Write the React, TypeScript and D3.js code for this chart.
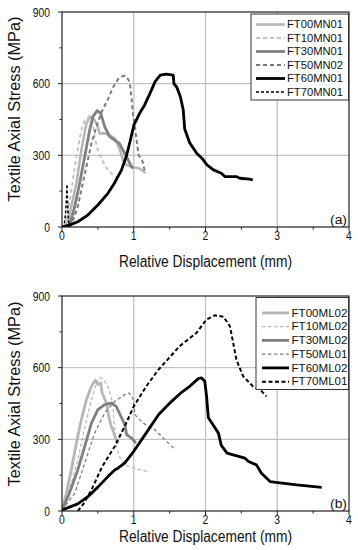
import React from "react";
import * as d3 from "d3";

// ---------- data ----------
const xTicks = [0, 1, 2, 3, 4];
const yTicks = [0, 300, 600, 900];
const xMinorTicks = [0.5, 1.5, 2.5, 3.5];
const yMinorTicks = [150, 450, 750];

const namesA = ["FT00MN01", "FT10MN01", "FT30MN01", "FT50MN02", "FT60MN01", "FT70MN01"];
const namesB = ["FT00ML02", "FT10ML02", "FT30ML02", "FT50ML01", "FT60ML02", "FT70ML01"];

const ft00mn01: [number, number][] = [[0.05,0],[0.09,30],[0.13,85],[0.2,183],[0.27,322],[0.34,434],[0.39,462],[0.455,448],[0.5,420],[0.525,392],[0.595,392],[0.66,385],[0.734,371],[0.8,329],[0.85,280],[0.9,259],[0.97,252],[1.08,245],[1.165,226]];
const ft10mn01: [number, number][] = [[0.03,0],[0.08,60],[0.13,155],[0.2,294],[0.27,406],[0.316,448],[0.38,462],[0.43,434],[0.455,378],[0.5,322],[0.57,273],[0.64,239],[0.71,218],[0.78,205]];
const ft30mn01: [number, number][] = [[0.08,0],[0.107,8],[0.177,85],[0.246,183],[0.316,294],[0.386,406],[0.432,462],[0.49,487],[0.54,476],[0.595,420],[0.664,378],[0.734,364],[0.8,350],[0.85,322],[0.9,294],[0.97,252],[0.99,245]];
const ft50mn02: [number, number][] = [[0.1,0],[0.13,8],[0.22,85],[0.29,183],[0.36,280],[0.41,350],[0.48,420],[0.55,480],[0.64,535],[0.715,587],[0.785,620],[0.85,632],[0.88,633],[0.93,615],[0.95,590],[0.97,535],[0.99,470],[1.02,410],[1.05,340],[1.07,300],[1.13,270],[1.157,225]];
const ft60mn01: [number, number][] = [[0,0],[0.1,8],[0.22,22],[0.36,50],[0.5,92],[0.64,141],[0.73,183],[0.83,239],[0.9,300],[0.95,360],[1.0,425],[1.08,475],[1.15,510],[1.22,555],[1.3,610],[1.37,636],[1.45,640],[1.55,636],[1.56,600],[1.6,585],[1.65,545],[1.69,490],[1.71,410],[1.78,352],[1.88,308],[1.95,288],[2.02,260],[2.11,239],[2.22,225],[2.27,211],[2.43,211],[2.48,204],[2.61,200],[2.66,197]];
const ft70mn01: [number, number][] = [[0,0],[0.03,5],[0.05,60],[0.065,130],[0.07,178],[0.075,120],[0.085,50],[0.1,0]];

const ft00ml02: [number, number][] = [[0,4],[0.06,74],[0.13,172],[0.2,284],[0.27,382],[0.34,466],[0.41,522],[0.465,547],[0.5,529],[0.54,536],[0.56,494],[0.62,452],[0.65,400],[0.68,360],[0.72,330],[0.75,300],[0.79,284]];
const ft10ml02: [number, number][] = [[0,4],[0.13,116],[0.22,214],[0.32,354],[0.41,466],[0.48,536],[0.525,560],[0.595,543],[0.64,522],[0.71,452],[0.73,354],[0.756,270],[0.8,228],[0.87,193],[1.01,179],[1.2,165]];
const ft30ml02: [number, number][] = [[0,4],[0.084,60],[0.22,172],[0.316,270],[0.41,368],[0.5,424],[0.595,445],[0.687,452],[0.756,438],[0.81,403],[0.877,361],[0.9,320],[0.97,305],[1.03,284]];
const ft50ml01: [number, number][] = [[0,4],[0.177,74],[0.316,200],[0.455,326],[0.595,410],[0.734,459],[0.873,487],[0.94,494],[0.99,470],[1.017,403],[1.13,368],[1.295,340],[1.434,298],[1.58,256]];
const ft60ml02: [number, number][] = [[0,4],[0.22,30],[0.36,60],[0.5,100],[0.64,144],[0.734,172],[0.78,179],[0.873,200],[1.0,250],[1.17,325],[1.35,405],[1.528,459],[1.667,497],[1.78,522],[1.9,554],[1.946,557],[1.99,543],[2.015,480],[2.04,390],[2.107,360],[2.18,326],[2.22,275],[2.3,242],[2.386,235],[2.55,221],[2.6,207],[2.71,193],[2.78,158],[2.9,123],[3.01,119],[3.27,109],[3.62,99]];
const ft70ml01: [number, number][] = [[0.22,0],[0.3,30],[0.41,88],[0.56,186],[0.734,270],[0.873,354],[1.0,438],[1.175,522],[1.34,590],[1.64,690],[1.876,746],[2.015,802],[2.13,819],[2.25,813],[2.34,774],[2.386,704],[2.43,634],[2.525,564],[2.66,522],[2.76,508],[2.85,480]];

// ---------- styles ----------
const FONT = "'Liberation Sans', Arial, Helvetica, sans-serif";
const stylesA = [
  { color: "#b6b6b6", width: 2.6, dash: "" },
  { color: "#c4c4c4", width: 2, dash: "4,3" },
  { color: "#808080", width: 2.8, dash: "" },
  { color: "#7a7a7a", width: 2, dash: "4,3" },
  { color: "#000", width: 2.8, dash: "" },
  { color: "#000", width: 1.5, dash: "3,2" },
];
const stylesB = [
  { color: "#b6b6b6", width: 2.8, dash: "" },
  { color: "#b8b8b8", width: 1.3, dash: "3.5,2.5" },
  { color: "#808080", width: 2.8, dash: "" },
  { color: "#808080", width: 1.3, dash: "3.5,2.5" },
  { color: "#000", width: 2.8, dash: "" },
  { color: "#000", width: 2, dash: "4,2.5" },
];

const panels = [
  {
    tag: "(a)", top: 12, bottom: 227, names: namesA, styles: stylesA,
    data: [ft00mn01, ft10mn01, ft30mn01, ft50mn02, ft60mn01, ft70mn01],
    legend: { x: 251, y: 14, w: 97.5, h: 86, l1: 256, l2: 285, tx: 287, b0: 28.3, step: 13.5 },
    xTitleY: 266.5, tickLabelY: 239.5, yTitleC: 109, tagY: 223.5,
  },
  {
    tag: "(b)", top: 296, bottom: 511, names: namesB, styles: stylesB,
    data: [ft00ml02, ft10ml02, ft30ml02, ft50ml01, ft60ml02, ft70ml01],
    legend: { x: 256, y: 297.5, w: 92.5, h: 92, l1: 262, l2: 289, tx: 291.5, b0: 316.7, step: 13.75 },
    xTitleY: 541.5, tickLabelY: 523.5, yTitleC: 394, tagY: 507.5,
  },
];

const X0 = 62, X1 = 349;

function Panel({ p }: { p: (typeof panels)[number] }) {
  const x = d3.scaleLinear().domain([0, 4]).range([X0, X1]);
  const y = d3.scaleLinear().domain([0, 900]).range([p.bottom, p.top]);
  const line = d3.line<[number, number]>().x((d) => x(d[0])).y((d) => y(d[1]));
  const clipId = "clip" + p.tag.replace(/[()]/g, "");
  return (
    <g>
      <defs>
        <clipPath id={clipId}>
          <rect x={X0} y={p.top} width={X1 - X0} height={p.bottom - p.top} />
        </clipPath>
      </defs>
      {/* grid */}
      {xTicks.slice(1, -1).map((t) => (
        <line key={"gx" + t} x1={x(t)} x2={x(t)} y1={p.top} y2={p.bottom} stroke="#c2c2c2" strokeWidth={1.3} />
      ))}
      {yTicks.slice(1, -1).map((t) => (
        <line key={"gy" + t} x1={X0} x2={X1} y1={y(t)} y2={y(t)} stroke="#c2c2c2" strokeWidth={1.3} />
      ))}
      {/* series */}
      <g clipPath={`url(#${clipId})`}>
        {p.data.map((d, i) => (
          <path key={i} d={line(d) || ""} fill="none" stroke={p.styles[i].color}
            strokeWidth={p.styles[i].width} strokeDasharray={p.styles[i].dash || undefined}
            strokeLinejoin="round" />
        ))}
      </g>
      {/* frame */}
      <rect x={X0} y={p.top} width={X1 - X0} height={p.bottom - p.top} fill="none" stroke="#222" strokeWidth={1.2} />
      {/* ticks */}
      {xTicks.map((t) => (
        <line key={"tx" + t} x1={x(t)} x2={x(t)} y1={p.bottom} y2={p.bottom + 4} stroke="#222" strokeWidth={1} />
      ))}
      {xMinorTicks.map((t) => (
        <line key={"mx" + t} x1={x(t)} x2={x(t)} y1={p.bottom} y2={p.bottom + 2.5} stroke="#222" strokeWidth={1} />
      ))}
      {yTicks.map((t) => (
        <line key={"ty" + t} x1={X0 - 4} x2={X0} y1={y(t)} y2={y(t)} stroke="#222" strokeWidth={1} />
      ))}
      {yMinorTicks.map((t) => (
        <line key={"my" + t} x1={X0 - 2.5} x2={X0} y1={y(t)} y2={y(t)} stroke="#222" strokeWidth={1} />
      ))}
      {/* tick labels */}
      {xTicks.map((t) => (
        <text key={"lx" + t} x={x(t)} y={p.tickLabelY} textAnchor="middle" fontSize={12}
          textLength={5.8} lengthAdjust="spacingAndGlyphs" fill="#111">{String(t)}</text>
      ))}
      {yTicks.map((t) => (
        <text key={"ly" + t} x={50} y={y(t) + 4.5} textAnchor="end" fontSize={12}
          textLength={String(t).length * 5.75} lengthAdjust="spacingAndGlyphs" fill="#111">{String(t)}</text>
      ))}
      {/* titles */}
      <text x={(X0 + X1) / 2} y={p.xTitleY} textAnchor="middle" fontSize={16}
        textLength={173} lengthAdjust="spacingAndGlyphs" fill="#111">Relative Displacement (mm)</text>
      <text transform={`translate(20,${p.yTitleC}) rotate(-90)`} textAnchor="middle" fontSize={16}
        textLength={185} lengthAdjust="spacingAndGlyphs" fill="#111">Textile Axial Stress (MPa)</text>
      <text x={347} y={p.tagY} textAnchor="end" fontSize={12} textLength={17} lengthAdjust="spacingAndGlyphs" fill="#111">{p.tag}</text>
      {/* legend */}
      <rect x={p.legend.x} y={p.legend.y} width={p.legend.w} height={p.legend.h} fill="#fff" stroke="#333" strokeWidth={1} />
      {p.names.map((n, i) => {
        const by = p.legend.b0 + i * p.legend.step;
        const s = p.styles[i];
        return (
          <g key={n}>
            <line x1={p.legend.l1} x2={p.legend.l2} y1={by - 3.8} y2={by - 3.8} stroke={s.color}
              strokeWidth={s.width} strokeDasharray={s.dash || undefined} />
            <text x={p.legend.tx} y={by} fontSize={11} textLength={56} lengthAdjust="spacingAndGlyphs" fill="#111">{n}</text>
          </g>
        );
      })}
    </g>
  );
}

export default function App() {
  return (
    <svg width={358} height={550} style={{ position: "absolute", left: 0, top: 0, background: "#fff" }}
      fontFamily={FONT}>
      <rect x={0} y={0} width={358} height={550} fill="#fff" />
      {panels.map((p) => (
        <Panel key={p.tag} p={p} />
      ))}
    </svg>
  );
}
